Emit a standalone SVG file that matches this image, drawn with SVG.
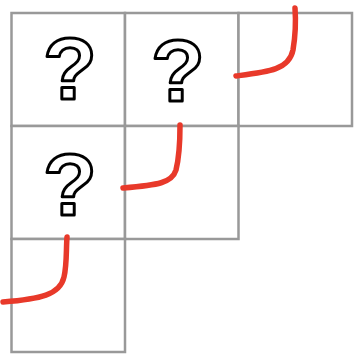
<svg xmlns="http://www.w3.org/2000/svg" width="355" height="354" viewBox="0 0 355 354">
<style>
.cell{fill:#fff;stroke:#999;stroke-width:2.5}
.q{font-family:"Liberation Sans",Arial,sans-serif;font-weight:bold;font-size:88px;fill:#fff;stroke:#000;stroke-width:3;stroke-linejoin:round;text-anchor:middle}
.link{fill:none;stroke:#e8392a;stroke-width:5.5;stroke-linecap:round}
</style>
<rect width="355" height="354" fill="#fff"/>
<g id="cell-0-0"><rect class="cell" x="11.5" y="13" width="113.5" height="113"/><text class="q" x="70" y="99">?</text></g>
<g id="cell-0-1"><rect class="cell" x="125" y="13" width="113.5" height="113"/><text class="q" x="178" y="101">?</text></g>
<g id="cell-0-2"><rect class="cell" x="238.5" y="13" width="113.5" height="113"/></g>
<g id="cell-1-0"><rect class="cell" x="11.5" y="126" width="113.5" height="113"/><text class="q" x="70" y="215">?</text></g>
<g id="cell-1-1"><rect class="cell" x="125" y="126" width="113.5" height="113"/></g>
<g id="cell-2-0"><rect class="cell" x="11.5" y="239" width="113.5" height="113"/></g>
<g id="connectors">
<path class="link" d="M295,8 C296,22 295,38 293,50 C289,70 268,72 236,76"/>
<path class="link" d="M180,125 C180,140 179,158 176,170 C172,183 158,185 123,188"/>
<path class="link" d="M67,237 C66,250 67,264 64,277 C60,295 40,299 3,302"/>
</g>
</svg>
